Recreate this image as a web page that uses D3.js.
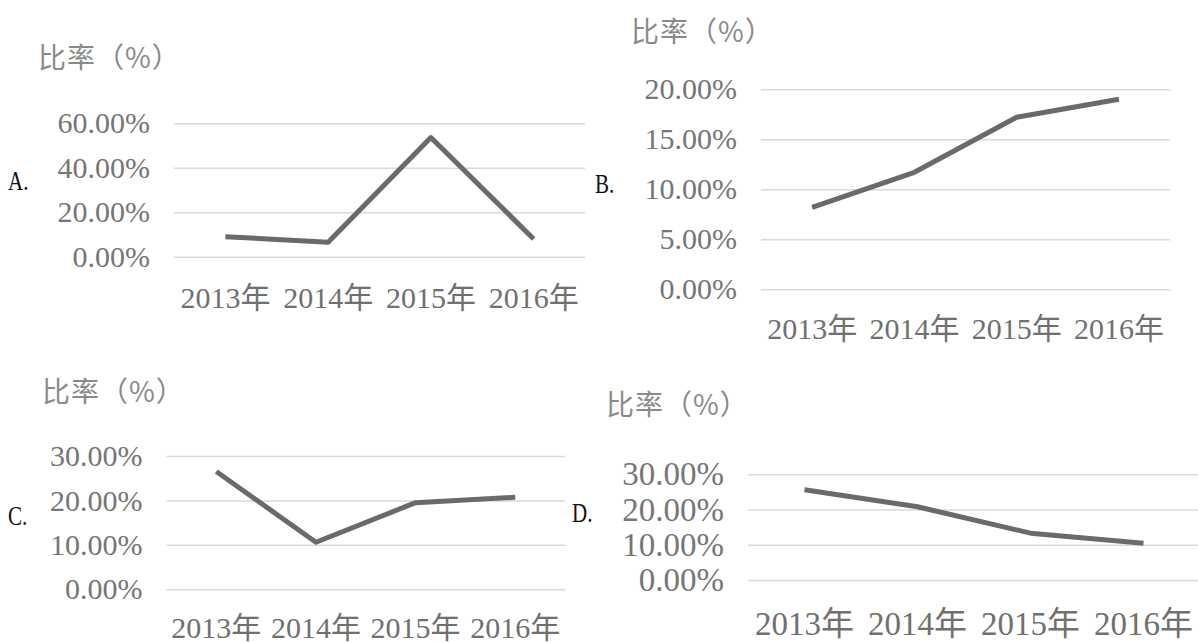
<!DOCTYPE html>
<html>
<head>
<meta charset="utf-8">
<script src="https://cdn.jsdelivr.net/npm/d3@7"></script>
<style>
  body { margin:0; background:#fff; }
  svg { display:block; }
</style>
</head>
<body>
<div class="canvas"></div>
<script>
// data
const years = ['2013年', '2014年', '2015年', '2016年'];
const rateA = [9.0, 6.5, 53.6, 8.0];
const rateB = [8.2, 11.7, 17.2, 19.0];
const rateC = [26.5, 10.6, 19.5, 20.7];
const rateD = [25.6, 20.8, 13.3, 10.4];
const ticksA = [0, 20, 40, 60];
const ticksB = [0, 5, 10, 15, 20];
const ticksC = [0, 10, 20, 30];
const ticksD = [0, 10, 20, 30];
const optionLabels = ['A.', 'B.', 'C.', 'D.'];
const yTitle = '比率（%）';

const W = 1198, H = 642;
const numFont = '"Liberation Serif", "Times New Roman", "Noto Sans CJK SC", serif';

const svg = d3.select('.canvas')
  .append('svg')
  .attr('width', W)
  .attr('height', H);

// one panel per option, layout boxes here (not in the data)
const panels = [
  { vals: rateA, ticks: ticksA, opt: optionLabels[0], x0: 174, x1: 585, yTop: 123.3, yBot: 256.7,
    titleX: 38, titleY: 58, optX: 8, optY: 180, labY: 297, fs: 30 },
  { vals: rateB, ticks: ticksB, opt: optionLabels[1], x0: 761, x1: 1170, yTop: 89.3, yBot: 289.3,
    titleX: 631, titleY: 32, optX: 595, optY: 183, labY: 328, fs: 30 },
  { vals: rateC, ticks: ticksC, opt: optionLabels[2], x0: 166.5, x1: 565, yTop: 456, yBot: 589.3,
    titleX: 42, titleY: 392, optX: 8, optY: 515, labY: 627, fs: 30 },
  { vals: rateD, ticks: ticksD, opt: optionLabels[3], x0: 748, x1: 1200, yTop: 474.3, yBot: 580,
    titleX: 606, titleY: 405, optX: 572, optY: 512, labY: 623, fs: 33 }
];

const drawPanel = (p) => {
  const g = svg.append('g');

  const x = d3.scaleBand()
    .domain(years)
    .range([p.x0, p.x1]);

  const y = d3.scaleLinear()
    .domain([0, d3.max(p.ticks)])
    .range([p.yBot, p.yTop]);

  //------------------------gridlines + tick labels
  const yAxis = d3.axisLeft(y)
    .tickValues(p.ticks)
    .tickFormat(d => d.toFixed(2) + '%')
    .tickSize(-(p.x1 - p.x0));

  const yG = g.append('g')
    .attr('transform', `translate(${p.x0},0)`)
    .call(yAxis);
  yG.select('.domain').remove();
  yG.selectAll('line')
    .attr('stroke', '#d9d9d9')
    .attr('stroke-width', 1.5);
  yG.selectAll('text')
    .attr('x', -24)
    .attr('fill', '#767676')
    .style('font-family', numFont)
    .style('font-size', p.fs + 'px');

  //------------------------category labels
  const xAxis = d3.axisBottom(x).tickSize(0);
  const xG = g.append('g')
    .attr('transform', `translate(0,${p.labY})`)
    .call(xAxis);
  xG.select('.domain').remove();
  xG.selectAll('text')
    .attr('y', 0)
    .attr('dy', '0.35em')
    .attr('fill', '#707070')
    .style('font-family', numFont)
    .style('font-size', p.fs + 'px');

  //------------------------the line
  const line = d3.line()
    .x((d, i) => x(years[i]) + x.bandwidth() / 2)
    .y(d => y(d));

  g.append('path')
    .datum(p.vals)
    .attr('d', line)
    .attr('fill', 'none')
    .attr('stroke', '#6a6a6a')
    .attr('stroke-width', 5)
    .attr('stroke-linejoin', 'round');

  //------------------------axis title
  g.append('text')
    .attr('x', p.titleX)
    .attr('y', p.titleY)
    .attr('dy', '0.35em')
    .attr('fill', '#8a8a8a')
    .style('font-family', '"Noto Sans CJK SC", sans-serif')
    .style('font-size', '28px')
    .style('letter-spacing', '1px')
    .text(yTitle);

  //------------------------option letter
  g.append('text')
    .attr('transform', `translate(${p.optX},${p.optY}) scale(0.75,1)`)
    .attr('dy', '0.35em')
    .attr('fill', '#111')
    .style('font-family', numFont)
    .style('font-size', '28px')
    .text(p.opt);
};

panels.forEach(drawPanel);
</script>
</body>
</html>
